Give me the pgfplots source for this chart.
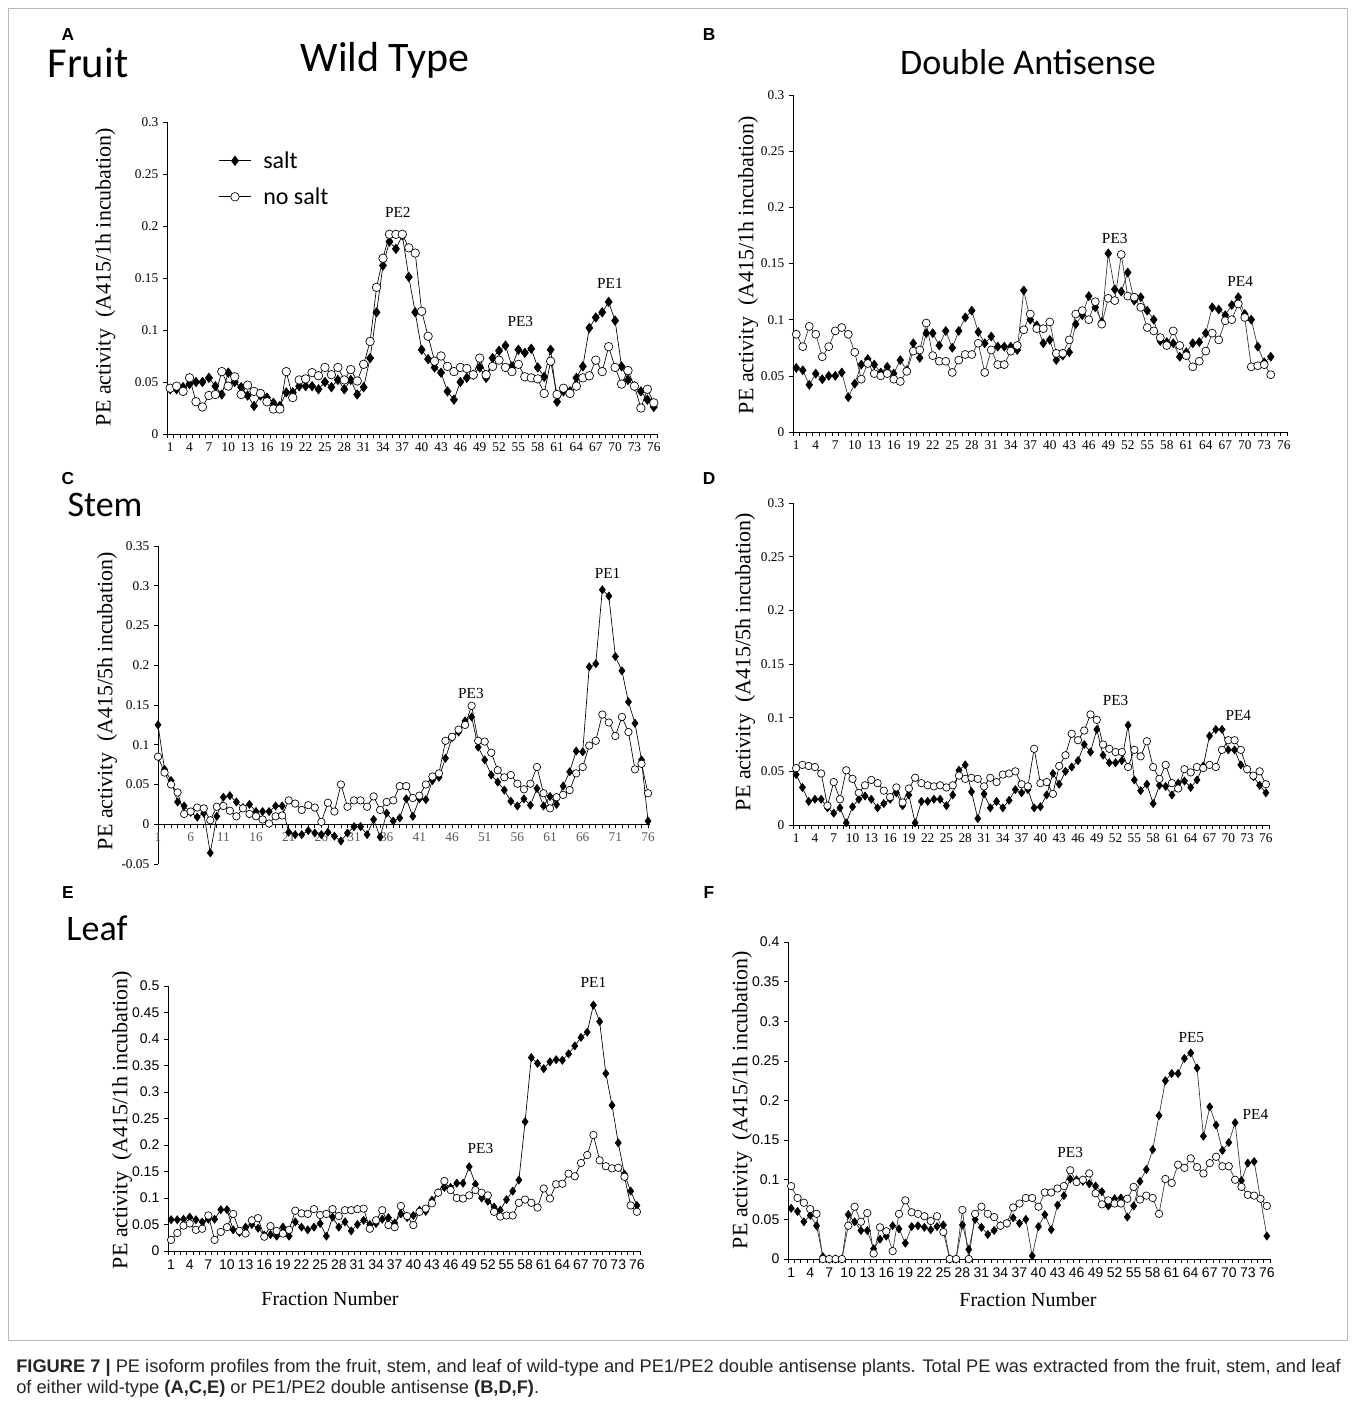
\documentclass[border=0pt]{standalone}
\usepackage{fontspec}
\setmainfont{Liberation Serif}
\setsansfont{Liberation Sans}
\newfontfamily\headfont{Carlito}
\usepackage{pgfplots}
\usepackage{pgfplotstable}
\pgfplotsset{compat=1.18}

\pgfplotstableread{
f s n
1 0.043 0.044
2 0.043 0.046
3 0.045 0.041
4 0.048 0.054
5 0.050 0.031
6 0.050 0.026
7 0.054 0.037
8 0.046 0.038
9 0.038 0.060
10 0.059 0.046
11 0.050 0.055
12 0.045 0.038
13 0.037 0.047
14 0.027 0.041
15 0.037 0.039
16 0.035 0.031
17 0.030 0.024
18 0.027 0.024
19 0.040 0.060
20 0.040 0.035
21 0.046 0.052
22 0.046 0.053
23 0.046 0.059
24 0.043 0.056
25 0.050 0.064
26 0.045 0.057
27 0.052 0.064
28 0.043 0.052
29 0.052 0.062
30 0.038 0.051
31 0.045 0.067
32 0.073 0.089
33 0.117 0.141
34 0.162 0.169
35 0.185 0.192
36 0.178 0.192
37 0.191 0.192
38 0.151 0.179
39 0.117 0.174
40 0.081 0.118
41 0.072 0.094
42 0.064 0.070
43 0.059 0.075
44 0.041 0.065
45 0.033 0.060
46 0.050 0.064
47 0.054 0.063
48 0.057 0.057
49 0.064 0.073
50 0.054 0.057
51 0.073 0.065
52 0.080 0.071
53 0.085 0.064
54 0.065 0.060
55 0.081 0.067
56 0.078 0.055
57 0.082 0.054
58 0.064 0.053
59 0.055 0.039
60 0.081 0.070
61 0.031 0.038
62 0.041 0.044
63 0.041 0.039
64 0.054 0.046
65 0.065 0.054
66 0.102 0.056
67 0.112 0.071
68 0.117 0.060
69 0.127 0.084
70 0.109 0.064
71 0.065 0.048
72 0.052 0.061
73 0.046 0.046
74 0.041 0.025
75 0.033 0.043
76 0.026 0.030
}\tabA

\pgfplotstableread{
f s n
1 0.057 0.087
2 0.055 0.076
3 0.042 0.094
4 0.052 0.087
5 0.047 0.067
6 0.050 0.076
7 0.050 0.090
8 0.053 0.093
9 0.031 0.087
10 0.043 0.071
11 0.060 0.047
12 0.065 0.061
13 0.060 0.052
14 0.053 0.050
15 0.058 0.052
16 0.052 0.047
17 0.064 0.045
18 0.055 0.054
19 0.079 0.072
20 0.066 0.073
21 0.088 0.097
22 0.088 0.068
23 0.077 0.063
24 0.090 0.063
25 0.075 0.053
26 0.090 0.064
27 0.102 0.069
28 0.108 0.069
29 0.089 0.079
30 0.079 0.053
31 0.085 0.073
32 0.076 0.060
33 0.076 0.060
34 0.076 0.072
35 0.073 0.077
36 0.126 0.091
37 0.100 0.105
38 0.095 0.092
39 0.079 0.092
40 0.082 0.098
41 0.064 0.070
42 0.068 0.070
43 0.071 0.082
44 0.096 0.105
45 0.104 0.108
46 0.121 0.100
47 0.111 0.116
48 0.098 0.096
49 0.159 0.119
50 0.127 0.117
51 0.125 0.158
52 0.142 0.121
53 0.117 0.120
54 0.120 0.111
55 0.108 0.093
56 0.100 0.090
57 0.081 0.084
58 0.080 0.077
59 0.079 0.090
60 0.067 0.077
61 0.071 0.068
62 0.079 0.058
63 0.080 0.063
64 0.088 0.072
65 0.111 0.088
66 0.109 0.082
67 0.104 0.099
68 0.113 0.100
69 0.120 0.114
70 0.105 0.102
71 0.100 0.058
72 0.076 0.059
73 0.062 0.060
74 0.067 0.051
}\tabB

\pgfplotstableread{
f s n
1 0.125 0.085
2 0.069 0.065
3 0.055 0.050
4 0.028 0.040
5 0.023 0.013
6 0.015 0.016
7 0.009 0.021
8 0.014 0.020
9 -0.036 0.005
10 0.010 0.022
11 0.034 0.023
12 0.036 0.017
13 0.028 0.010
14 0.021 0.020
15 0.025 0.013
16 0.016 0.010
17 0.016 0.006
18 0.016 0.001
19 0.023 0.010
20 0.023 0.011
21 -0.010 0.030
22 -0.013 0.026
23 -0.013 0.018
24 -0.008 0.024
25 -0.011 0.021
26 -0.013 0.003
27 -0.010 0.027
28 -0.015 0.016
29 -0.021 0.050
30 -0.011 0.022
31 -0.003 0.030
32 -0.003 0.030
33 -0.013 0.022
34 0.006 0.035
35 -0.016 0.018
36 0.014 0.028
37 0.004 0.030
38 0.008 0.048
39 0.032 0.048
40 0.010 0.033
41 0.032 0.036
42 0.031 0.050
43 0.055 0.060
44 0.059 0.064
45 0.083 0.105
46 0.109 0.110
47 0.116 0.119
48 0.130 0.125
49 0.135 0.149
50 0.097 0.105
51 0.081 0.104
52 0.062 0.090
53 0.053 0.068
54 0.043 0.059
55 0.029 0.062
56 0.023 0.051
57 0.032 0.044
58 0.024 0.051
59 0.045 0.072
60 0.023 0.039
61 0.035 0.020
62 0.025 0.034
63 0.048 0.037
64 0.066 0.043
65 0.092 0.064
66 0.091 0.072
67 0.198 0.099
68 0.202 0.105
69 0.295 0.138
70 0.287 0.128
71 0.211 0.111
72 0.193 0.135
73 0.154 0.116
74 0.127 0.069
75 0.081 0.076
76 0.004 0.039
}\tabC

\pgfplotstableread{
f s n
1 0.047 0.053
2 0.035 0.056
3 0.022 0.055
4 0.024 0.054
5 0.024 0.048
6 0.016 0.018
7 0.011 0.040
8 0.016 0.024
9 0.002 0.051
10 0.017 0.043
11 0.024 0.030
12 0.027 0.037
13 0.024 0.042
14 0.016 0.039
15 0.020 0.032
16 0.024 0.026
17 0.030 0.035
18 0.018 0.021
19 0.028 0.034
20 0.002 0.044
21 0.022 0.039
22 0.022 0.037
23 0.024 0.036
24 0.024 0.037
25 0.018 0.035
26 0.028 0.037
27 0.051 0.046
28 0.056 0.043
29 0.031 0.044
30 0.006 0.043
31 0.029 0.036
32 0.016 0.044
33 0.022 0.040
34 0.016 0.047
35 0.023 0.048
36 0.033 0.050
37 0.030 0.038
38 0.033 0.036
39 0.016 0.071
40 0.017 0.039
41 0.028 0.040
42 0.048 0.029
43 0.038 0.055
44 0.050 0.065
45 0.054 0.085
46 0.060 0.079
47 0.075 0.088
48 0.068 0.103
49 0.089 0.098
50 0.065 0.075
51 0.058 0.071
52 0.058 0.068
53 0.060 0.068
54 0.093 0.054
55 0.042 0.070
56 0.032 0.064
57 0.038 0.078
58 0.020 0.054
59 0.037 0.043
60 0.036 0.056
61 0.028 0.039
62 0.039 0.034
63 0.041 0.052
64 0.035 0.049
65 0.042 0.054
66 0.055 0.053
67 0.083 0.056
68 0.089 0.054
69 0.089 0.070
70 0.070 0.079
71 0.070 0.079
72 0.056 0.070
73 0.052 0.052
74 0.045 0.046
75 0.037 0.050
76 0.030 0.038
}\tabD

\pgfplotstableread{
f s n
1 0.059 0.021
2 0.059 0.034
3 0.060 0.048
4 0.064 0.052
5 0.059 0.040
6 0.055 0.042
7 0.060 0.067
8 0.060 0.021
9 0.078 0.036
10 0.078 0.045
11 0.040 0.070
12 0.035 0.038
13 0.045 0.033
14 0.050 0.058
15 0.043 0.062
16 0.030 0.027
17 0.031 0.047
18 0.028 0.038
19 0.045 0.033
20 0.028 0.040
21 0.055 0.076
22 0.045 0.071
23 0.040 0.070
24 0.045 0.079
25 0.052 0.068
26 0.028 0.070
27 0.064 0.079
28 0.045 0.066
29 0.055 0.077
30 0.038 0.077
31 0.050 0.079
32 0.058 0.080
33 0.050 0.042
34 0.052 0.058
35 0.060 0.077
36 0.063 0.049
37 0.053 0.045
38 0.070 0.085
39 0.063 0.066
40 0.067 0.049
41 0.077 0.074
42 0.075 0.080
43 0.096 0.090
44 0.110 0.110
45 0.120 0.132
46 0.120 0.115
47 0.128 0.100
48 0.128 0.099
49 0.159 0.105
50 0.126 0.115
51 0.100 0.110
52 0.094 0.105
53 0.083 0.074
54 0.077 0.065
55 0.097 0.067
56 0.113 0.067
57 0.134 0.091
58 0.244 0.097
59 0.365 0.091
60 0.354 0.082
61 0.344 0.118
62 0.357 0.099
63 0.361 0.126
64 0.360 0.127
65 0.372 0.146
66 0.387 0.141
67 0.403 0.166
68 0.413 0.181
69 0.464 0.219
70 0.433 0.171
71 0.335 0.160
72 0.275 0.156
73 0.204 0.157
74 0.145 0.140
75 0.113 0.086
76 0.086 0.074
}\tabE

\pgfplotstableread{
f s n
1 0.064 0.092
2 0.060 0.077
3 0.047 0.071
4 0.055 0.063
5 0.042 0.057
6 0.003 0.000
7 0.000 0.000
8 0.000 0.000
9 0.000 0.000
10 0.056 0.042
11 0.047 0.066
12 0.036 0.047
13 0.036 0.058
14 0.013 0.007
15 0.025 0.040
16 0.029 0.035
17 0.042 0.010
18 0.038 0.057
19 0.020 0.074
20 0.041 0.059
21 0.042 0.057
22 0.040 0.054
23 0.037 0.048
24 0.041 0.054
25 0.043 0.034
26 0.000 0.000
27 0.000 0.000
28 0.043 0.062
29 0.012 0.000
30 0.050 0.057
31 0.040 0.066
32 0.031 0.057
33 0.036 0.053
34 0.042 0.042
35 0.045 0.045
36 0.052 0.065
37 0.045 0.070
38 0.050 0.077
39 0.004 0.077
40 0.041 0.066
41 0.056 0.084
42 0.037 0.084
43 0.068 0.089
44 0.080 0.092
45 0.101 0.112
46 0.100 0.097
47 0.098 0.100
48 0.095 0.108
49 0.092 0.083
50 0.085 0.069
51 0.067 0.074
52 0.076 0.070
53 0.077 0.070
54 0.053 0.076
55 0.067 0.091
56 0.098 0.075
57 0.113 0.080
58 0.138 0.077
59 0.181 0.057
60 0.225 0.101
61 0.234 0.096
62 0.234 0.119
63 0.253 0.115
64 0.260 0.127
65 0.241 0.116
66 0.155 0.108
67 0.192 0.121
68 0.169 0.129
69 0.137 0.117
70 0.147 0.117
71 0.172 0.100
72 0.099 0.091
73 0.121 0.081
74 0.123 0.080
75 nan 0.076
76 0.029 0.067
}\tabF

\pgfplotsset{
  peaxis/.style={
    scale only axis, clip=false,
    axis lines*=left,
    axis line style={line width=0.6pt, black},
    tick align=outside,
    major tick length=3pt,
    tick style={line width=0.5pt, black},
    xtick={0.5,1.5,...,76.5}, xticklabels={},
    extra x ticks={1,4,...,76},
    extra x tick labels={1,4,7,10,13,16,19,22,25,28,31,34,37,40,43,46,49,52,55,58,61,64,67,70,73,76},
    extra x tick style={tick style={draw=none}},
    xmin=0.5, xmax=76.5, ymin=0,
    /pgf/number format/assume math mode=true,
    yticklabel style={/pgf/number format/fixed, /pgf/number format/precision=2},
    tick label style={font=\fontsize{10}{12}\selectfont, black},
  },
  salt/.style={black, line width=0.5pt, mark=diamond*, mark options={solid, fill=black, draw=black}},
  nosalt/.style={black, line width=0.5pt, mark=*, mark options={solid, fill=white, draw=black, line width=0.5pt}},
}
\tikzset{
  pelab/.style={font=\fontsize{11.5}{13}\selectfont, inner sep=0pt},
  ylab/.style={rotate=90, font=\fontsize{16.5}{18}\selectfont, inner sep=0pt},
  head/.style={font=\headfont\fontsize{27}{30}\selectfont, inner sep=0pt},
  letter/.style={font=\sffamily\bfseries\fontsize{13}{15}\selectfont, inner sep=0pt},
}

\begin{document}
\begin{tikzpicture}
\path[use as bounding box] (0,0) rectangle (1016.25pt,-1050.75pt);
\draw[gray!55, line width=0.7pt] (6pt,-6pt) rectangle (1010.25pt,-1005pt);

% headings
\node[letter] at (51pt,-26.25pt) {A};
\node[letter] at (531.75pt,-26.25pt) {B};
\node[letter] at (51pt,-359.25pt) {C};
\node[letter] at (531.75pt,-359.25pt) {D};
\node[letter] at (51pt,-669.75pt) {E};
\node[letter] at (531.75pt,-669.75pt) {F};
\node[head, font=\headfont\fontsize{32}{35}\selectfont] at (66pt,-47.25pt) {Fruit};
\node[head, font=\headfont\fontsize{31.5}{35}\selectfont] at (288.75pt,-45pt) {Wild Type};
\node[head] at (771pt,-46.5pt) {Double Antisense};
\node[head] at (78.75pt,-378.75pt) {Stem};
\node[head] at (72.75pt,-696pt) {Leaf};

% y labels
\node[ylab] at (79pt,-207.75pt) {PE activity~ (A415/1h incubation)};
\node[ylab] at (561pt,-198.75pt) {PE activity~ (A415/1h incubation)};
\node[ylab] at (80.25pt,-525.75pt) {PE activity~ (A415/5h incubation)};
\node[ylab] at (558.75pt,-496.5pt) {PE activity~ (A415/5h incubation)};
\node[ylab] at (91.5pt,-840pt) {PE activity~ (A415/1h incubation)};
\node[ylab] at (556.5pt,-825pt) {PE activity~ (A415/1h incubation)};
\node[font=\fontsize{15}{17}\selectfont, inner sep=0pt] at (247.5pt,-974.25pt) {Fraction Number};
\node[font=\fontsize{15}{17}\selectfont, inner sep=0pt] at (771pt,-975pt) {Fraction Number};

% ---------- A ----------
\begin{axis}[peaxis, at={(125.25pt,-325.5pt)}, anchor=south west,
  width=367.5pt, height=234pt, ymax=0.3,
  ytick={0,0.05,0.1,0.15,0.2,0.25,0.3},
  legend style={draw=none, fill=none, at={(0.105,0.915)}, anchor=north west,
    font=\headfont\fontsize{18}{20}\selectfont, row sep=9pt, inner sep=0pt,
    /tikz/every odd column/.append style={column sep=7pt}},
  legend cell align=left,
  legend image code/.code={\draw[mark repeat=2, mark phase=2, #1] plot coordinates {(0cm,0cm) (0.42cm,0cm) (0.84cm,0cm)};}]
\addplot[salt, mark size=3.5pt] table[x=f,y=s]{\tabA};
\addlegendentry{salt}
\addplot[nosalt, mark size=3.2pt] table[x=f,y=n]{\tabA};
\addlegendentry{no salt}
\node[pelab] at (axis cs:36.3,0.213) {PE2};
\node[pelab] at (axis cs:55.3,0.108) {PE3};
\node[pelab] at (axis cs:69.2,0.145) {PE1};
\end{axis}

% ---------- B ----------
\begin{axis}[peaxis, at={(594.75pt,-324pt)}, anchor=south west,
  width=370.5pt, height=252.75pt, ymax=0.3,
  ytick={0,0.05,0.1,0.15,0.2,0.25,0.3}]
\addplot[salt, black!80, mark size=3.3pt] table[x=f,y=s]{\tabB};
\addplot[nosalt, black!80, mark size=3.0pt] table[x=f,y=n]{\tabB};
\node[pelab] at (axis cs:50,0.172) {PE3};
\node[pelab] at (axis cs:69.3,0.134) {PE4};
\end{axis}

% ---------- C ----------
\begin{axis}[peaxis, at={(118.5pt,-648pt)}, anchor=south west,
  width=369pt, height=238.5pt,
  axis x line*=middle, axis y line*=left,
  xmin=1, xmax=76.3, ymin=-0.05, ymax=0.35,
  xtick={1,...,76}, xticklabels={},
  extra x ticks={1,6,...,76},
  extra x tick labels={1,6,11,16,21,26,31,36,41,46,51,56,61,66,71,76},
  extra x tick style={tick style={draw=none}, tick label style={black!65}},
  ytick={-0.05,0,0.05,0.1,0.15,0.2,0.25,0.3,0.35}]
\addplot[salt, mark size=3.0pt] table[x=f,y=s]{\tabC};
\addplot[nosalt, mark size=2.8pt] table[x=f,y=n]{\tabC};
\node[pelab] at (axis cs:48.9,0.165) {PE3};
\node[pelab] at (axis cs:69.8,0.316) {PE1};
\end{axis}

% ---------- D ----------
\begin{axis}[peaxis, at={(594.75pt,-618.75pt)}, anchor=south west,
  width=357pt, height=241.5pt, ymax=0.3,
  ytick={0,0.05,0.1,0.15,0.2,0.25,0.3}]
\addplot[salt, mark size=3.0pt] table[x=f,y=s]{\tabD};
\addplot[nosalt, mark size=2.8pt] table[x=f,y=n]{\tabD};
\node[pelab] at (axis cs:52,0.116) {PE3};
\node[pelab] at (axis cs:71.6,0.102) {PE4};
\end{axis}

% ---------- E ----------
\begin{axis}[peaxis, at={(126pt,-938.25pt)}, anchor=south west,
  width=354pt, height=198.75pt, ymax=0.5,
  ytick={0,0.05,0.1,0.15,0.2,0.25,0.3,0.35,0.4,0.45,0.5},
  tick label style={font=\sffamily\fontsize{10.5}{12}\selectfont, black}]
\addplot[salt, mark size=3.0pt] table[x=f,y=s]{\tabE};
\addplot[nosalt, mark size=2.8pt] table[x=f,y=n]{\tabE};
\node[pelab] at (axis cs:69,0.506) {PE1};
\node[pelab] at (axis cs:50.8,0.194) {PE3};
\end{axis}

% ---------- F ----------
\begin{axis}[peaxis, at={(591pt,-944.25pt)}, anchor=south west,
  width=361.5pt, height=237.75pt, ymax=0.4,
  ytick={0,0.05,0.1,0.15,0.2,0.25,0.3,0.35,0.4},
  tick label style={font=\sffamily\fontsize{10.5}{12}\selectfont, black}]
\addplot[salt, black!80, mark size=3.0pt] table[x=f,y=s]{\tabF};
\addplot[nosalt, black!80, mark size=2.8pt] table[x=f,y=n]{\tabF};
\node[pelab] at (axis cs:45,0.135) {PE3};
\node[pelab] at (axis cs:64.1,0.28) {PE5};
\node[pelab] at (axis cs:74.2,0.183) {PE4};
\end{axis}

% caption
\node[anchor=north west, align=left, inner sep=0pt, text=black!85,
  font=\sffamily\fontsize{13.7}{15.75}\selectfont] at (12pt,-1019pt)
  {\textbf{FIGURE 7 |} PE isoform profiles from the fruit, stem, and leaf of wild-type and PE1/PE2 double antisense plants. Total PE was extracted from the fruit, stem, and leaf\\
   of either wild-type \textbf{(A,C,E)} or PE1/PE2 double antisense \textbf{(B,D,F)}.};
\end{tikzpicture}
\end{document}
